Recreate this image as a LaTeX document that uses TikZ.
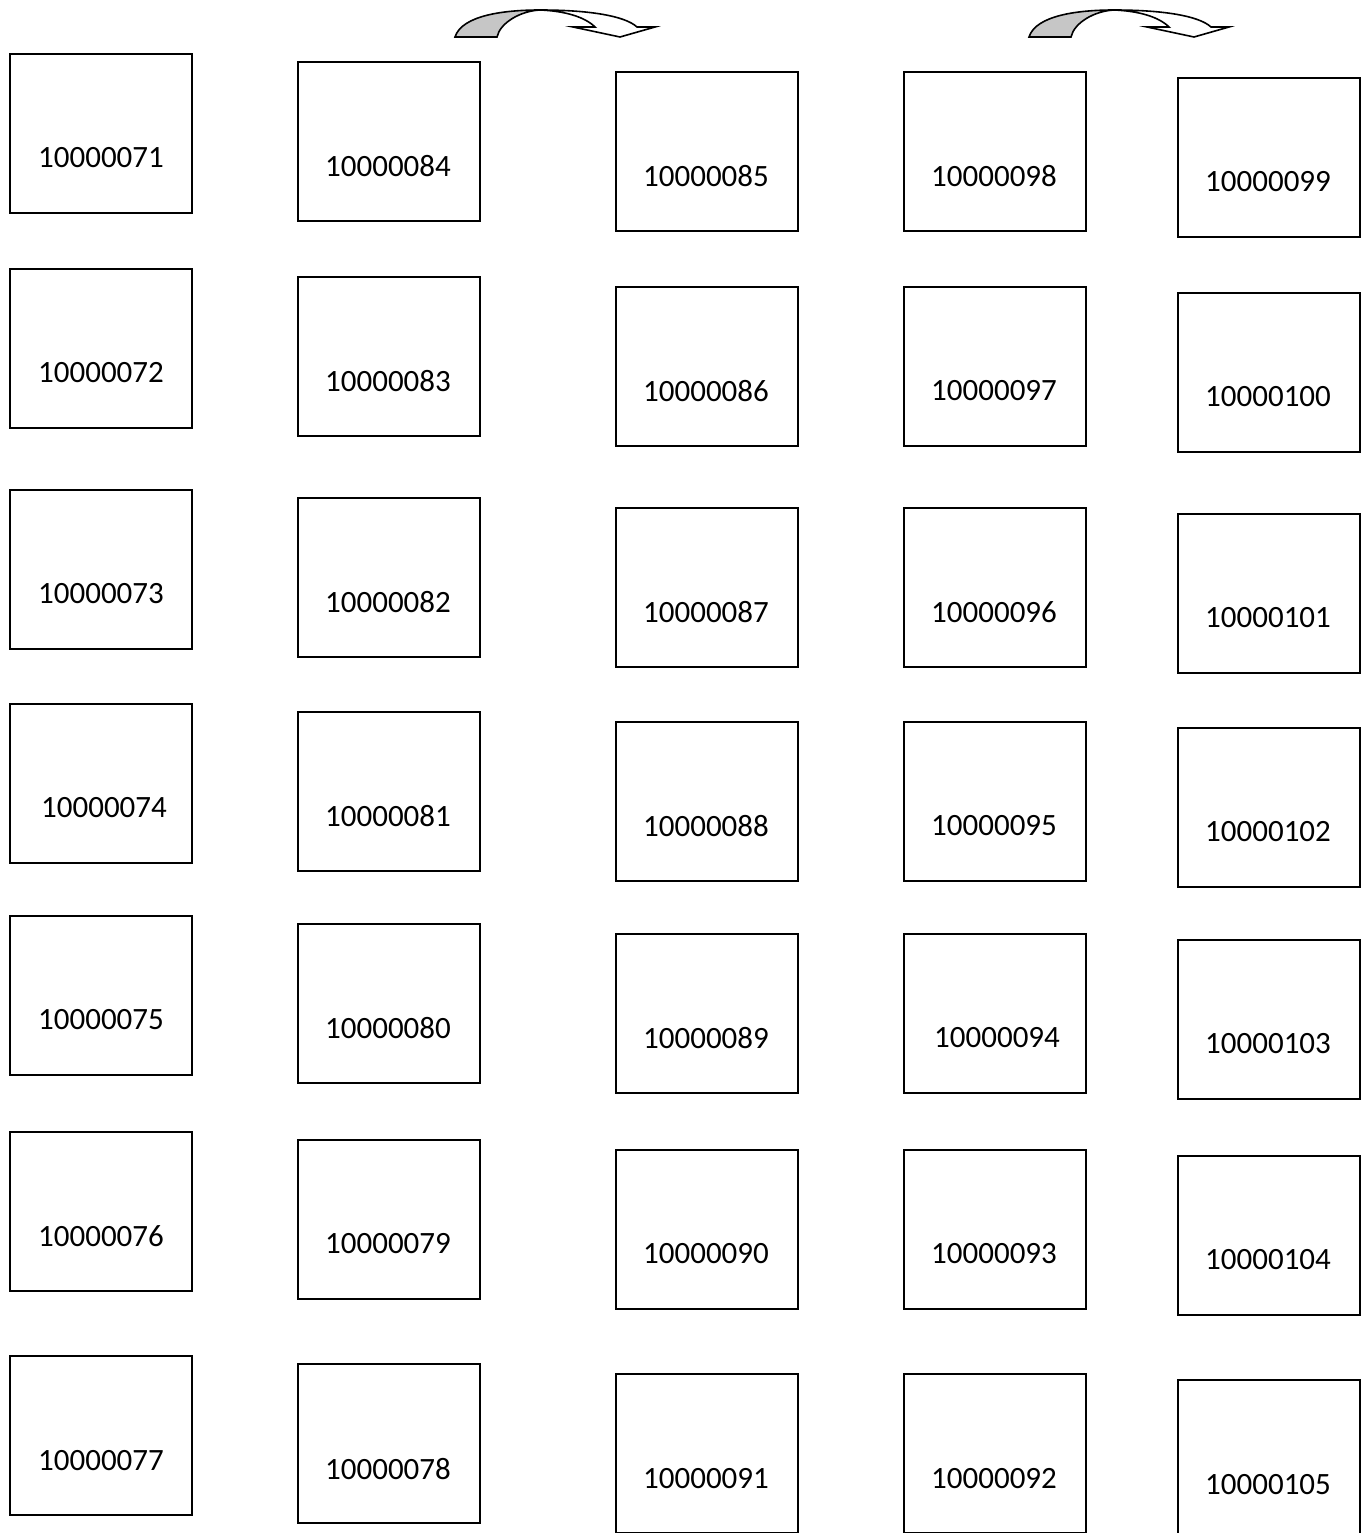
\documentclass[tikz,border=0pt]{standalone}
\usepackage{fontspec}
\setmainfont{Carlito}
\begin{document}
\begin{tikzpicture}[x=1pt,y=-1pt,
  cell/.style={draw=black,line width=1.8pt,rectangle,minimum width=182pt,minimum height=159pt,inner sep=0pt,anchor=north west},
  num/.style={inner sep=0pt,font=\fontsize{31}{36}\selectfont},
  ribbon/.style={draw=black,line width=1.6pt,line join=miter},
  curvearrow/.pic={
    \path[ribbon,fill=gray!45] (0,27) .. controls (7,5) and (50,0) .. (85,0) .. controls (65,1) and (45,13) .. (42,27) -- cycle;
    \path[ribbon,fill=white] (85,0) .. controls (135,0) and (170,6) .. (182,17) -- (200,17) -- (165,27) -- (118,17) -- (140,17) .. controls (130,7) and (110,1) .. (85,0) -- cycle;
  }]
\useasboundingbox (0,0) rectangle (1365,1533);
% curved arrows
\pic (arrA) at (455,10) {curvearrow};
\pic (arrB) at (1029,10) {curvearrow};
% boxes
\foreach \n/\x/\y/\tx/\ty in {
 071/9/53/101/158, 072/9/268/101/373, 073/9/489/101/594, 074/9/703/104/808,
 075/9/915/101/1020, 076/9/1131/101/1236, 077/9/1355/101/1461,
 084/297/61/388/166, 083/297/276/388/381, 082/297/497/388/602, 081/297/711/388/816,
 080/297/923/388/1028, 079/297/1139/388/1244, 078/297/1363/388/1469,
 085/615/71/706/176, 086/615/286/706/391, 087/615/507/706/612, 088/615/721/706/826,
 089/615/933/706/1038, 090/615/1149/706/1254, 091/615/1373/706/1479,
 098/903/71/994/176, 097/903/286/994/391, 096/903/507/994/612, 095/903/721/994/826,
 094/903/933/997/1038, 093/903/1149/994/1254, 092/903/1373/994/1479,
 099/1177/77/1268/182, 100/1177/292/1268/397, 101/1177/513/1268/618, 102/1177/727/1268/832,
 103/1177/939/1268/1044, 104/1177/1155/1268/1260, 105/1177/1379/1268/1485}
{
  \node[cell] (b\n) at (\x,\y) {};
  \node[num] (t\n) at (\tx,\ty) {10000\n};
}
\end{tikzpicture}
\end{document}
